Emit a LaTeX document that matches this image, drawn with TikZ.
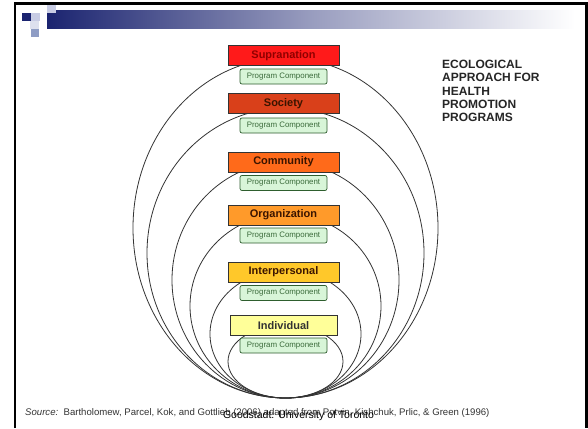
\documentclass[tikz,border=0pt]{standalone}
\usepackage{fontspec}
\setmainfont{Liberation Sans}
\definecolor{navy}{HTML}{1B2470}
\definecolor{lav}{HTML}{C8CCE4}
\definecolor{lav2}{HTML}{DDE0EE}
\definecolor{greyblue}{HTML}{8E9CC4}
\definecolor{cSup}{HTML}{FF1A1A}
\definecolor{tSup}{HTML}{900000}
\definecolor{cSoc}{HTML}{D9401A}
\definecolor{cCom}{HTML}{FF6A1A}
\definecolor{cOrg}{HTML}{FF9A2A}
\definecolor{cInt}{HTML}{FFC82A}
\definecolor{cInd}{HTML}{FFFF99}
\definecolor{tDark}{HTML}{3A1400}
\definecolor{pcfill}{HTML}{D8F5D8}
\definecolor{pcdraw}{HTML}{2E5E2E}
\definecolor{pctext}{HTML}{3A6A3A}
\definecolor{ringc}{HTML}{333333}
\tikzset{
  level/.style={draw=black!80, line width=0.6pt, minimum width=111pt, minimum height=20pt,
    inner sep=0pt, font=\fontsize{11}{12}\selectfont\bfseries},
  pcbox/.style={draw=pcdraw, fill=pcfill, rounded corners=2pt, line width=0.7pt,
    minimum width=87pt, minimum height=15pt, inner sep=0pt, text=pctext,
    font=\fontsize{7.9}{9}\selectfont},
  ring/.style={draw=ringc, line width=0.8pt},
  frame/.style={line width=2.6pt, draw=black}
}
\begin{document}
\begin{tikzpicture}[x=1pt,y=-1pt]
\useasboundingbox[fill=white] (0,0) rectangle (588,428);
% frame
\draw[frame] (15,428) -- (15,3.5) -- (586.5,3.5) -- (586.5,428);
% header bar
\shade[left color=navy, right color=white, middle color=navy!45!white] (47,11) rectangle (575,29);
\fill[navy] (22,13) rectangle (31,21);
\fill[lav] (31,13) rectangle (40,21);
\fill[lav] (47,5) rectangle (56,13);
\fill[lav2] (30,21) rectangle (39,29);
\fill[greyblue] (31,29) rectangle (39,37);
% ellipses
\draw[ring] (285.5,228) ellipse[x radius=152.5, y radius=170];
\draw[ring] (285.5,253) ellipse[x radius=138.5, y radius=145];
\draw[ring] (285.5,280) ellipse[x radius=113.5, y radius=118];
\draw[ring] (285.5,306) ellipse[x radius=95.5, y radius=92];
\draw[ring] (285.5,334) ellipse[x radius=75.5, y radius=64];
\draw[ring] (285.5,361.5) ellipse[x radius=57.5, y radius=36.5];
% levels
\node[level, fill=cSup, text=tSup] (sup) at (283.5,55.5) {Supranation};
\node[pcbox] (pc1) at (283.5,76.5) {Program Component};
\node[level, fill=cSoc, text=tDark] (soc) at (283.5,103.5) {Society};
\node[pcbox] (pc2) at (283.5,125.5) {Program Component};
\node[level, fill=cCom, text=tDark] (com) at (283.5,162) {Community};
\node[pcbox] (pc3) at (283.5,183) {Program Component};
\node[level, fill=cOrg, text=tDark] (org) at (283.5,215) {Organization};
\node[pcbox] (pc4) at (283.5,235.5) {Program Component};
\node[level, fill=cInt, text=tDark] (int) at (283.5,272) {Interpersonal};
\node[pcbox] (pc5) at (283.5,293) {Program Component};
\node[level, fill=cInd, text=black!80, minimum width=107pt] (ind) at (283.5,325.5) {Individual};
\node[pcbox] (pc6) at (283.5,345.5) {Program Component};
% title
\node[anchor=north west, inner sep=0pt, align=left, text=black!85,
  font=\fontsize{12}{13.3}\selectfont\bfseries] (title) at (442,60)
  {ECOLOGICAL\\APPROACH FOR\\HEALTH\\PROMOTION\\PROGRAMS};
% source
\node[anchor=base west, inner sep=0pt, text=black!80, font=\fontsize{9.6}{11}\selectfont] (src) at (25,415)
  {\textit{Source:}\ \ Bartholomew, Parcel, Kok, and Gottlieb (2006) adapted from Potvin, Kishchuk, Prlic, \& Green (1996)};
\node[anchor=base, inner sep=0pt, text=black, font=\fontsize{10.5}{12}\selectfont] (credit) at (298.5,418)
  {Goodstadt: University of Toronto};
\end{tikzpicture}
\end{document}
